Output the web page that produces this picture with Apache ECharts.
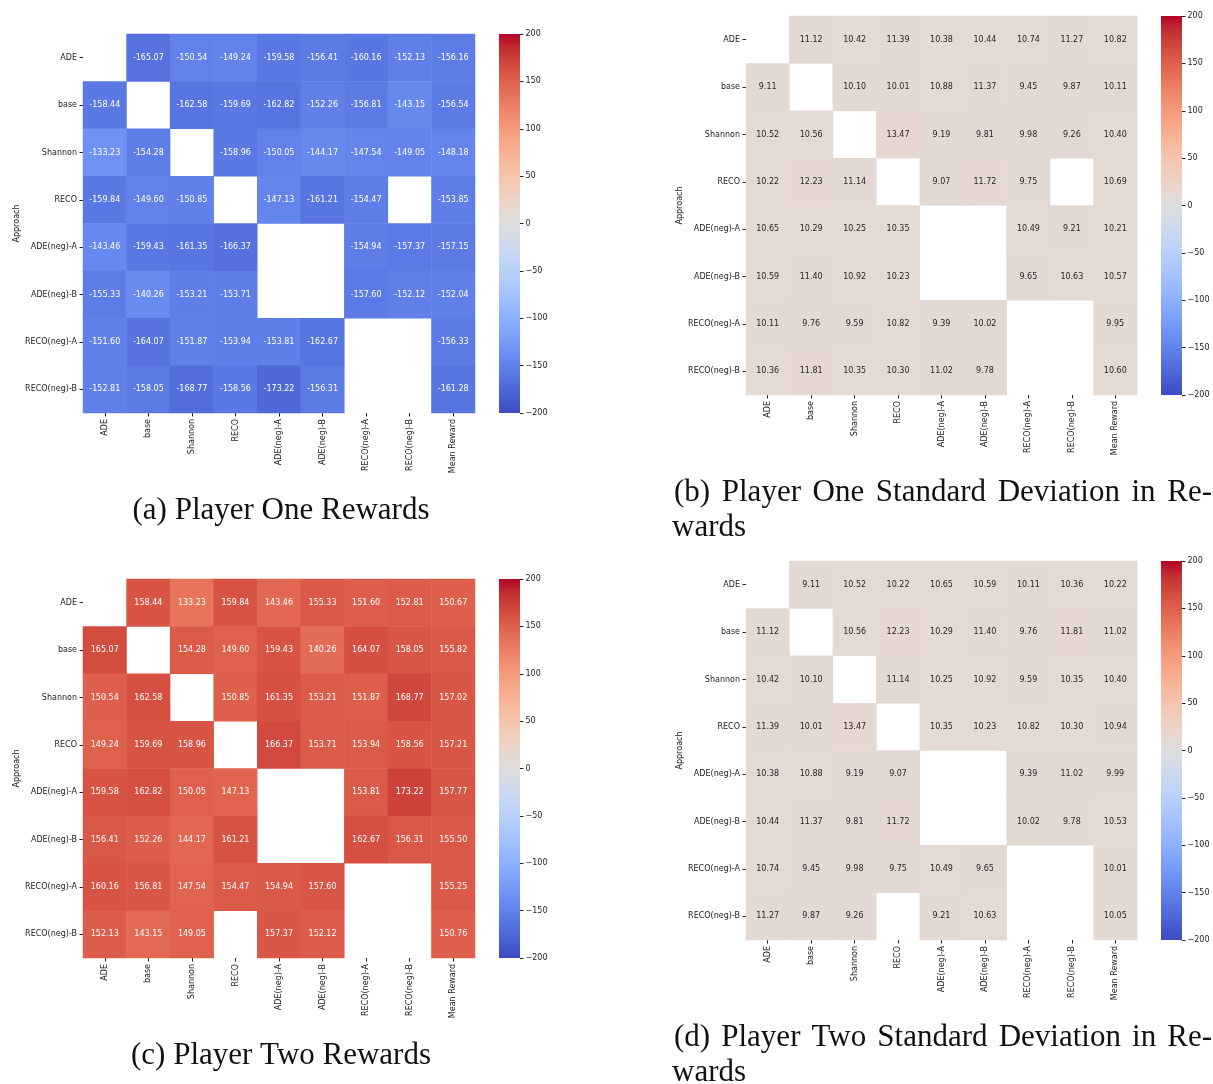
<!DOCTYPE html>
<html>
<head>
<meta charset="utf-8">
<script src="https://cdn.jsdelivr.net/npm/echarts@6/dist/echarts.min.js"></script>
<style>
  html, body { margin: 0; padding: 0; background: #ffffff; }
  #chart { width: 1213px; height: 1084px; }
</style>
</head>
<body>
<div id="chart"></div>
<script>
// Row approaches and opponent columns (last column is the row mean)
const approaches = ['ADE', 'base', 'Shannon', 'RECO', 'ADE(neg)-A', 'ADE(neg)-B', 'RECO(neg)-A', 'RECO(neg)-B'];
const opponents = ['ADE', 'base', 'Shannon', 'RECO', 'ADE(neg)-A', 'ADE(neg)-B', 'RECO(neg)-A', 'RECO(neg)-B', 'Mean Reward'];

// Colour scale range and colorbar tick step
const scaleMin = -200;
const scaleMax = 200;
const tickStep = 50;

// (a) Player one mean rewards; null = pairing not played
const p1Rewards = [
  [null, -165.07, -150.54, -149.24, -159.58, -156.41, -160.16, -152.13, -156.16],
  [-158.44, null, -162.58, -159.69, -162.82, -152.26, -156.81, -143.15, -156.54],
  [-133.23, -154.28, null, -158.96, -150.05, -144.17, -147.54, -149.05, -148.18],
  [-159.84, -149.60, -150.85, null, -147.13, -161.21, -154.47, null, -153.85],
  [-143.46, -159.43, -161.35, -166.37, null, null, -154.94, -157.37, -157.15],
  [-155.33, -140.26, -153.21, -153.71, null, null, -157.60, -152.12, -152.04],
  [-151.60, -164.07, -151.87, -153.94, -153.81, -162.67, null, null, -156.33],
  [-152.81, -158.05, -168.77, -158.56, -173.22, -156.31, null, null, -161.28]
];

// (b) Player one standard deviation of rewards
const p1Std = [
  [null, 11.12, 10.42, 11.39, 10.38, 10.44, 10.74, 11.27, 10.82],
  [9.11, null, 10.10, 10.01, 10.88, 11.37, 9.45, 9.87, 10.11],
  [10.52, 10.56, null, 13.47, 9.19, 9.81, 9.98, 9.26, 10.40],
  [10.22, 12.23, 11.14, null, 9.07, 11.72, 9.75, null, 10.69],
  [10.65, 10.29, 10.25, 10.35, null, null, 10.49, 9.21, 10.21],
  [10.59, 11.40, 10.92, 10.23, null, null, 9.65, 10.63, 10.57],
  [10.11, 9.76, 9.59, 10.82, 9.39, 10.02, null, null, 9.95],
  [10.36, 11.81, 10.35, 10.30, 11.02, 9.78, null, null, 10.60]
];

// (c) Player two mean rewards
const p2Rewards = [
  [null, 158.44, 133.23, 159.84, 143.46, 155.33, 151.60, 152.81, 150.67],
  [165.07, null, 154.28, 149.60, 159.43, 140.26, 164.07, 158.05, 155.82],
  [150.54, 162.58, null, 150.85, 161.35, 153.21, 151.87, 168.77, 157.02],
  [149.24, 159.69, 158.96, null, 166.37, 153.71, 153.94, 158.56, 157.21],
  [159.58, 162.82, 150.05, 147.13, null, null, 153.81, 173.22, 157.77],
  [156.41, 152.26, 144.17, 161.21, null, null, 162.67, 156.31, 155.50],
  [160.16, 156.81, 147.54, 154.47, 154.94, 157.60, null, null, 155.25],
  [152.13, 143.15, 149.05, null, 157.37, 152.12, null, null, 150.76]
];

// (d) Player two standard deviation of rewards
const p2Std = [
  [null, 9.11, 10.52, 10.22, 10.65, 10.59, 10.11, 10.36, 10.22],
  [11.12, null, 10.56, 12.23, 10.29, 11.40, 9.76, 11.81, 11.02],
  [10.42, 10.10, null, 11.14, 10.25, 10.92, 9.59, 10.35, 10.40],
  [11.39, 10.01, 13.47, null, 10.35, 10.23, 10.82, 10.30, 10.94],
  [10.38, 10.88, 9.19, 9.07, null, null, 9.39, 11.02, 9.99],
  [10.44, 11.37, 9.81, 11.72, null, null, 10.02, 9.78, 10.53],
  [10.74, 9.45, 9.98, 9.75, 10.49, 9.65, null, null, 10.01],
  [11.27, 9.87, 9.26, null, 9.21, 10.63, null, null, 10.05]
];

// Diverging cool-warm colour map, evenly spaced stops from min to max
const coolwarm = [
  '#3b4cc0', '#445acc', '#4d68d7', '#5775e1', '#6282ea', '#6c8ef1', '#779af7', '#82a5fb',
  '#8db0fe', '#98b9ff', '#a3c2ff', '#aec9fd', '#b8d0f9', '#c2d5f4', '#ccd9ee', '#d5dbe6',
  '#dddddd', '#e5d8d1', '#ecd3c5', '#f1ccb9', '#f5c4ad', '#f7bba0', '#f7b194', '#f7a687',
  '#f49a7b', '#f18d6f', '#ec7f63', '#e57058', '#de604d', '#d55042', '#cb3e38', '#c0282f',
  '#b40426'
];

const TICK_FONT = 'DejaVu Sans';
const CAPTION_FONT = '31px "Liberation Serif"';

// Panel layout: heatmap grid and colorbar rectangles, in pixels
const panels = [
  { values: p1Rewards, grid: { left: 83, top: 34, width: 392, height: 379 }, bar: { left: 499, top: 34 } },
  { values: p1Std, grid: { left: 746, top: 16, width: 391, height: 379 }, bar: { left: 1161, top: 16 } },
  { values: p2Rewards, grid: { left: 83, top: 579, width: 392, height: 379 }, bar: { left: 499, top: 579 } },
  { values: p2Std, grid: { left: 746, top: 561, width: 391, height: 379 }, bar: { left: 1161, top: 561 } }
];
const BAR_W = 21;
const BAR_H = 379;

function hexToRgb(h) {
  return [parseInt(h.slice(1, 3), 16), parseInt(h.slice(3, 5), 16), parseInt(h.slice(5, 7), 16)];
}
// Colour of a value on the colour map (used to pick readable annotation colour)
function colourAt(v) {
  let t = (v - scaleMin) / (scaleMax - scaleMin);
  t = Math.max(0, Math.min(1, t)) * (coolwarm.length - 1);
  const i = Math.min(coolwarm.length - 2, Math.floor(t));
  const f = t - i;
  const a = hexToRgb(coolwarm[i]), b = hexToRgb(coolwarm[i + 1]);
  return a.map((c, k) => c + (b[k] - c) * f);
}
function luminance(rgb) {
  const lin = rgb.map(c => {
    c /= 255;
    return c <= 0.03928 ? c / 12.92 : Math.pow((c + 0.055) / 1.055, 2.4);
  });
  return 0.2126 * lin[0] + 0.7152 * lin[1] + 0.0722 * lin[2];
}

function heatmapData(values) {
  const out = [];
  values.forEach((row, r) => {
    row.forEach((v, c) => {
      if (v === null) return;
      const dark = luminance(colourAt(v)) > 0.408;
      out.push({ value: [c, r, v], label: { color: dark ? '#262626' : '#ffffff' } });
    });
  });
  return out;
}

const grids = [], xAxes = [], yAxes = [], series = [], visualMaps = [];
const tickLine = { color: '#222', width: 1 };

panels.forEach((p, i) => {
  grids.push(Object.assign({ containLabel: false }, p.grid));
  xAxes.push({
    type: 'category', gridIndex: i, data: opponents, position: 'bottom',
    axisLine: { show: false, onZero: false },
    axisTick: { show: true, alignWithLabel: true, interval: 0, length: 3.5, lineStyle: tickLine },
    axisLabel: { rotate: 90, interval: 0, fontSize: 8, fontFamily: TICK_FONT, color: '#222', margin: 6 },
    splitLine: { show: false }
  });
  yAxes.push({
    type: 'category', gridIndex: i, data: approaches, inverse: true,
    name: 'Approach', nameLocation: 'middle', nameGap: 60,
    nameTextStyle: { fontSize: 8, fontFamily: TICK_FONT, color: '#222' },
    axisLine: { show: false, onZero: false },
    axisTick: { show: true, alignWithLabel: true, interval: 0, length: 3.5, lineStyle: tickLine },
    axisLabel: { interval: 0, fontSize: 8, fontFamily: TICK_FONT, color: '#222', margin: 6 },
    splitLine: { show: false }
  });
  series.push({
    type: 'heatmap', xAxisIndex: i, yAxisIndex: i,
    data: heatmapData(p.values),
    itemStyle: { borderWidth: 0 },
    label: {
      show: true, fontSize: 8, fontFamily: TICK_FONT,
      formatter: prm => prm.value[2].toFixed(2)
    },
    emphasis: { disabled: true },
    animation: false
  });
  // Colour mapping for the cells; the colorbar itself is drawn below
  visualMaps.push({
    type: 'continuous', seriesIndex: i, min: scaleMin, max: scaleMax,
    show: false, inRange: { color: coolwarm }
  });
});

// Colorbar tick axes alongside each gradient bar
panels.forEach((p, i) => {
  const gi = grids.length;
  grids.push({ left: p.bar.left, top: p.bar.top, width: BAR_W, height: BAR_H, containLabel: false });
  xAxes.push({ type: 'value', gridIndex: gi, show: false, min: 0, max: 1 });
  yAxes.push({
    type: 'value', gridIndex: gi, position: 'right', min: scaleMin, max: scaleMax, interval: tickStep,
    axisLine: { show: false, onZero: false },
    axisTick: { show: true, length: 3.5, lineStyle: tickLine },
    axisLabel: { fontSize: 8, fontFamily: TICK_FONT, color: '#222', margin: 5.5,
      formatter: v => String(v).replace('-', '\u2212') },
    splitLine: { show: false }
  });
});

// Gradient colorbars, top = scaleMax
function colorbar(bar) {
  const stops = coolwarm.map((c, k) => ({ offset: 1 - k / (coolwarm.length - 1), color: c })).reverse();
  return {
    type: 'rect', silent: true,
    shape: { x: bar.left, y: bar.top, width: BAR_W, height: BAR_H },
    style: { fill: new echarts.graphic.LinearGradient(0, 0, 0, 1, stops) }
  };
}

// Captions; two-line captions have a justified first line
const measureCtx = document.createElement('canvas').getContext('2d');
function textWidth(s, font) { measureCtx.font = font; return measureCtx.measureText(s).width; }
function caption(text, cx, y) {
  return { type: 'text', x: cx, y: y, style: { text: text, font: CAPTION_FONT, fill: '#111', align: 'center', verticalAlign: 'middle' } };
}
function justifiedLine(text, x0, x1, y) {
  const words = text.split(' ');
  const widths = words.map(w => textWidth(w, CAPTION_FONT));
  const total = widths.reduce((a, b) => a + b, 0);
  const gap = (x1 - x0 - total) / (words.length - 1);
  let x = x0;
  return words.map((w, k) => {
    const el = { type: 'text', x: x, y: y, style: { text: w, font: CAPTION_FONT, fill: '#111', align: 'left', verticalAlign: 'middle' } };
    x += widths[k] + gap;
    return el;
  });
}
function leftLine(text, x, y) {
  return { type: 'text', x: x, y: y, style: { text: text, font: CAPTION_FONT, fill: '#111', align: 'left', verticalAlign: 'middle' } };
}

const graphics = [
  ...panels.map(p => colorbar(p.bar)),
  caption('(a) Player One Rewards', 281, 511),
  ...justifiedLine('(b) Player One Standard Deviation in Re-', 674, 1212, 493),
  leftLine('wards', 672, 528),
  caption('(c) Player Two Rewards', 281, 1056),
  ...justifiedLine('(d) Player Two Standard Deviation in Re-', 674, 1212, 1038),
  leftLine('wards', 672, 1073)
];

const chart = echarts.init(document.getElementById('chart'), null, { renderer: 'canvas' });
chart.setOption({
  backgroundColor: '#ffffff',
  animation: false,
  grid: grids,
  xAxis: xAxes,
  yAxis: yAxes,
  visualMap: visualMaps,
  series: series,
  graphic: graphics
});
</script>
</body>
</html>
